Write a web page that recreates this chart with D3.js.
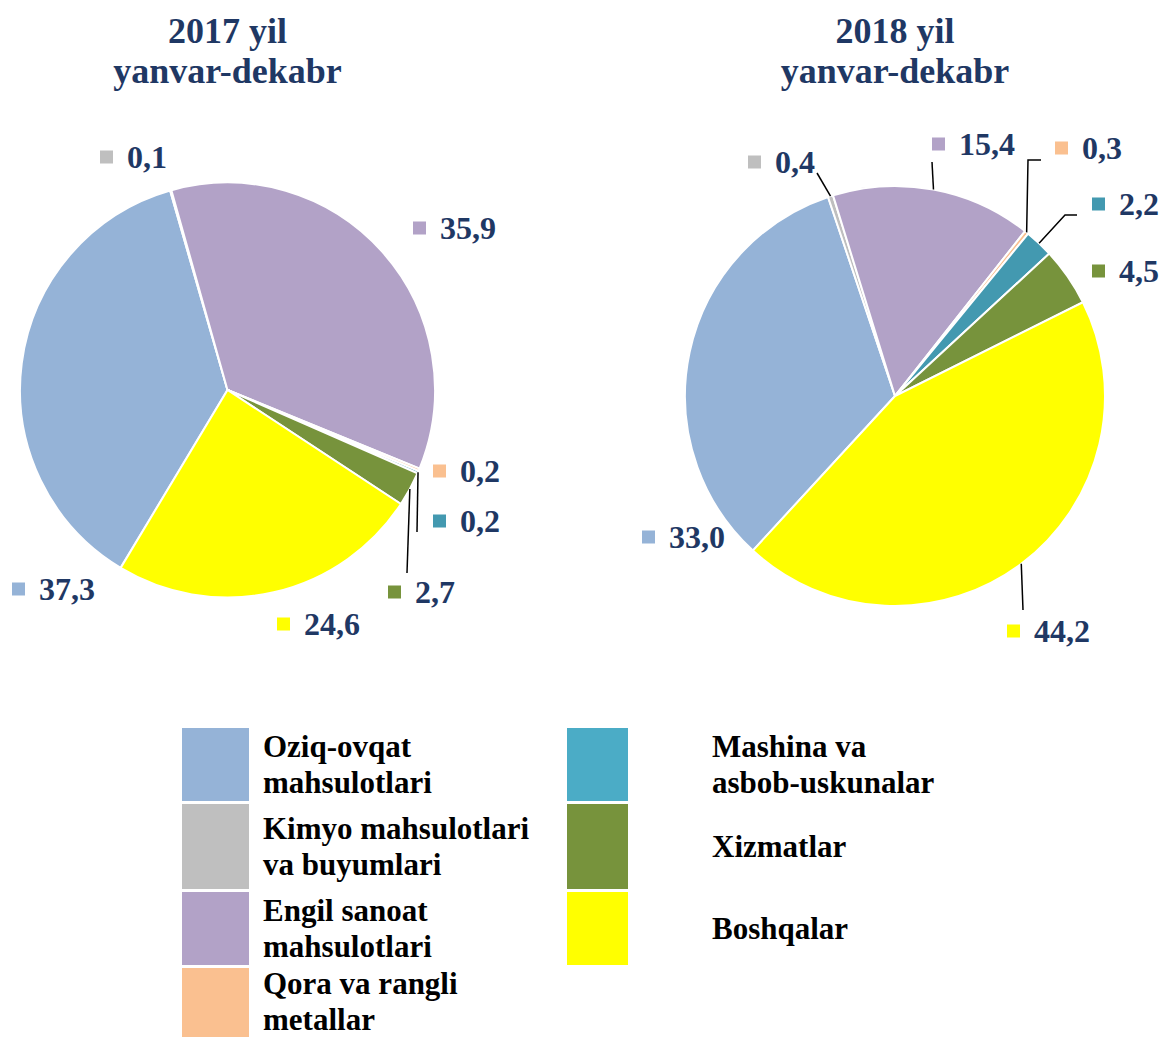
<!DOCTYPE html>
<html>
<head>
<meta charset="utf-8">
<script src="https://cdn.jsdelivr.net/npm/d3@7.9.0/dist/d3.min.js"></script>
<style>
  body { margin: 0; background: #fff; }
  svg text { font-family: "Liberation Serif", "Times New Roman", serif; font-weight: bold; }
</style>
</head>
<body>
<svg id="chart" width="1174" height="1037"></svg>
<script>
// ===== data =====
const categories = [
  'Oziq-ovqat mahsulotlari', 'Kimyo mahsulotlari va buyumlari', 'Engil sanoat mahsulotlari',
  'Qora va rangli metallar', 'Mashina va asbob-uskunalar', 'Xizmatlar', 'Boshqalar'
];
const legendLines = [
  ['Oziq-ovqat', 'mahsulotlari'], ['Kimyo mahsulotlari', 'va buyumlari'],
  ['Engil sanoat', 'mahsulotlari'], ['Qora va rangli', 'metallar'],
  ['Mashina va', 'asbob-uskunalar'], ['Xizmatlar'], ['Boshqalar']
];
const values2017 = [37.3, 0.1, 35.9, 0.2, 0.2, 2.7, 24.6];
const values2018 = [33.0, 0.4, 15.4, 0.3, 2.2, 4.5, 44.2];
const titles = [['2017 yil', 'yanvar-dekabr'], ['2018 yil', 'yanvar-dekabr']];
const colors = ['#95B3D7', '#BFBFBF', '#B2A2C7', '#FAC090', '#4BACC6', '#77933C', '#FFFF00'];

// ===== layout =====
const navy = '#1F3864';
const pies = [
  { values: values2017, title: titles[0], cx: 227.5, cy: 390, r: 207.5, start: -149,
    labels: [[12, 600], [100, 168], [413, 239], [433, 482], [433, 532], [388, 603], [277, 635]],
    leaders: { 4: [[417, 532]], 5: [[407, 573]] } },
  { values: values2018, title: titles[1], cx: 895, cy: 396, r: 210, start: -137.4,
    labels: [[642, 548], [748, 173], [932, 155], [1055, 159], [1092, 215], [1092, 282], [1007, 642]],
    leaders: { 1: [[817, 173]], 2: [[932, 162]], 3: [[1028, 160], [1041, 160]],
               4: [[1065, 215], [1077, 215]], 6: [[1023, 610]] } }
];
// pie slices of the machinery category are a shade darker than its legend swatch
const sliceColor = i => i === 4 ? '#4399B0' : colors[i];
const fmt = v => d3.format('.1f')(v).replace('.', ',');

const svg = d3.select('#chart');

pies.forEach(p => {
  const g = svg.append('g');
  const a0 = p.start * Math.PI / 180;
  const pieGen = d3.pie().sort(null).value(d => d).startAngle(a0).endAngle(a0 + 2 * Math.PI);
  const arcGen = d3.arc().innerRadius(0).outerRadius(p.r);
  const arcs = pieGen(p.values);

  // title
  g.selectAll('text.title').data(p.title).join('text')
    .attr('class', 'title')
    .attr('x', p.cx)
    .attr('y', (_, i) => 43 + i * 40)
    .attr('text-anchor', 'middle')
    .attr('font-size', 36)
    .attr('fill', navy)
    .text(d => d);

  // slices
  g.append('g').attr('transform', `translate(${p.cx},${p.cy})`)
    .selectAll('path').data(arcs).join('path')
      .attr('d', arcGen)
      .attr('fill', (_, i) => sliceColor(i))
      .attr('stroke', '#fff')
      .attr('stroke-width', 2);

  // leader lines: from slice edge at mid-angle to the label
  Object.entries(p.leaders).forEach(([k, pts]) => {
    const d = arcs[+k];
    const mid = (d.startAngle + d.endAngle) / 2;
    const startPt = [p.cx + p.r * Math.sin(mid), p.cy - p.r * Math.cos(mid)];
    g.append('path')
      .attr('d', d3.line()([startPt, ...pts]))
      .attr('fill', 'none')
      .attr('stroke', '#000')
      .attr('stroke-width', 1.5);
  });

  // value labels with small colour markers
  const lab = g.selectAll('g.lab').data(arcs).join('g')
    .attr('class', 'lab')
    .attr('transform', (_, i) => `translate(${p.labels[i][0]},${p.labels[i][1]})`);
  lab.append('rect')
    .attr('x', 0).attr('y', -17.5)
    .attr('width', 13).attr('height', 13)
    .attr('fill', (_, i) => sliceColor(i));
  lab.append('text')
    .attr('x', 27)
    .attr('font-size', 32)
    .attr('fill', navy)
    .text(d => fmt(d.data));
});

// ===== legend =====
const legendCols = [{ x: 182, w: 67, tx: 263 }, { x: 567, w: 61, tx: 712 }];
const rowHeights = [76, 88, 76, 70];
const rowTops = rowHeights.map((_, i) => 728 + d3.sum(rowHeights.slice(0, i)));
const perCol = 4;

const items = svg.append('g').selectAll('g').data(categories).join('g')
  .attr('transform', (_, i) => `translate(0,${rowTops[i % perCol]})`);

items.append('rect')
  .attr('x', (_, i) => legendCols[Math.floor(i / perCol)].x)
  .attr('y', 0)
  .attr('width', (_, i) => legendCols[Math.floor(i / perCol)].w)
  .attr('height', (_, i) => i % perCol === 3 ? 80 : rowHeights[i % perCol] - 3)
  .attr('fill', (_, i) => colors[i]);

items.each(function (_, i) {
  const lines = legendLines[i];
  const h = rowHeights[i % perCol] - 3;
  const lh = 36;
  const top = h / 2 - lines.length * lh / 2;
  d3.select(this).selectAll('text').data(lines).join('text')
    .attr('x', legendCols[Math.floor(i / perCol)].tx)
    .attr('y', (_, j) => top + j * lh + lh / 2 + 10)
    .attr('font-size', 31)
    .attr('fill', '#000')
    .text(d => d);
});
</script>
</body>
</html>
